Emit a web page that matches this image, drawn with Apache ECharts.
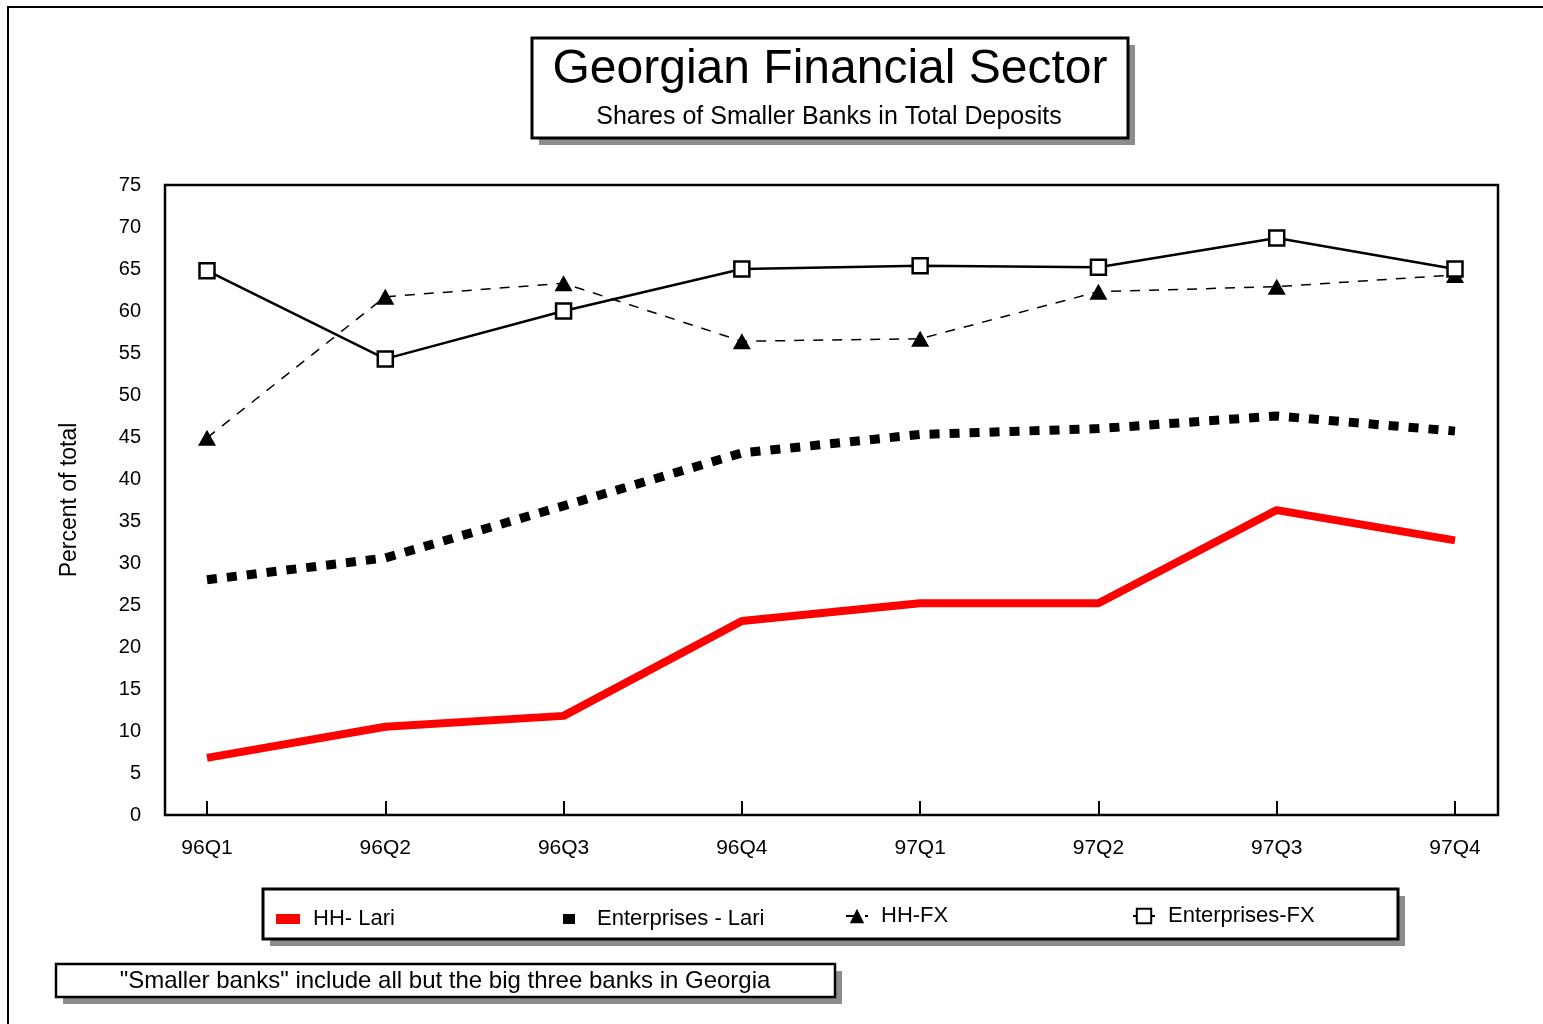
<!DOCTYPE html>
<html>
<head>
<meta charset="utf-8">
<title>Georgian Financial Sector</title>
<script src="https://cdn.jsdelivr.net/npm/echarts@6/dist/echarts.min.js"></script>
<style>
  html, body { margin: 0; padding: 0; background: #fff; }
  #chart { width: 1543px; height: 1024px; }
</style>
</head>
<body>
<div id="chart"></div>
<script>
var quarters = ['96Q1', '96Q2', '96Q3', '96Q4', '97Q1', '97Q2', '97Q3', '97Q4']
var hhLari = [6.8, 10.5, 11.8, 23.1, 25.2, 25.2, 36.3, 32.7]
var entLari = [28.0, 30.6, 36.8, 43.1, 45.3, 46.0, 47.5, 45.7]
var hhFx = [44.9, 61.7, 63.3, 56.4, 56.7, 62.3, 62.9, 64.3]
var entFx = [64.8, 54.3, 60.0, 65.0, 65.4, 65.2, 68.7, 65.0]

var FONT = '"Liberation Sans", Arial, sans-serif'

var chart = echarts.init(document.getElementById('chart'))

function legendAt(name, left, opts) {
  return Object.assign({
    data: [name],
    left: left,
    top: 905,
    padding: 0,
    itemHeight: 18,
    itemWidth: 22,
    selectedMode: false,
    textStyle: { fontFamily: FONT, fontSize: 22, color: '#000', padding: [0, 0, 0, 8] }
  }, opts || {})
}

chart.setOption({
  animation: false,
  backgroundColor: '#fff',
  grid: {
    left: 207,
    right: 88,
    top: 185,
    bottom: 209
  },
  legend: [
    legendAt('HH- Lari', 276, { icon: 'rect', itemWidth: 24, itemHeight: 10, top: 908 }),
    legendAt('Enterprises - Lari', 563, { icon: 'rect', itemWidth: 12, itemHeight: 10, top: 908,
      textStyle: { fontFamily: FONT, fontSize: 22, color: '#000', padding: [0, 0, 0, 17] } }),
    legendAt('HH-FX', 845),
    legendAt('Enterprises-FX', 1132)
  ],
  xAxis: {
    type: 'category',
    data: quarters,
    boundaryGap: false,
    axisLine: { show: false },
    axisTick: { inside: true, length: 14, lineStyle: { color: '#000', width: 2 } },
    axisLabel: { margin: 23, fontFamily: FONT, fontSize: 21, color: '#000' },
    splitLine: { show: false }
  },
  yAxis: {
    type: 'value',
    min: 0,
    max: 75,
    interval: 5,
    offset: 42,
    name: 'Percent of total',
    nameLocation: 'middle',
    nameRotate: 90,
    nameGap: 84,
    nameTextStyle: { fontFamily: FONT, fontSize: 23, color: '#000' },
    axisLine: { show: false },
    axisTick: { inside: true, length: 13, lineStyle: { color: '#000', width: 2 } },
    axisLabel: { margin: 24, fontFamily: FONT, fontSize: 20, color: '#000' },
    splitLine: { show: false }
  },
  series: [
    {
      name: 'HH- Lari',
      type: 'line',
      data: hhLari,
      symbol: 'none',
      itemStyle: { color: '#ff0000' },
      lineStyle: { color: '#ff0000', width: 8 }
    },
    {
      name: 'Enterprises - Lari',
      type: 'line',
      data: entLari,
      symbol: 'none',
      itemStyle: { color: '#000' },
      lineStyle: { color: '#000', width: 9, type: [10, 10], cap: 'butt' }
    },
    {
      name: 'HH-FX',
      type: 'line',
      data: hhFx,
      symbol: 'triangle',
      symbolSize: [18, 16],
      itemStyle: { color: '#000' },
      lineStyle: { color: '#000', width: 1.5, type: [10, 9] }
    },
    {
      name: 'Enterprises-FX',
      type: 'line',
      data: entFx,
      symbol: 'rect',
      symbolSize: 15,
      showAllSymbol: true,
      itemStyle: { color: '#fff', borderColor: '#000', borderWidth: 2.5 },
      lineStyle: { color: '#000', width: 2.5 }
    }
  ],
  graphic: [
    // page frame
    { type: 'rect', shape: { x: 8, y: 7, width: 1600, height: 1100 }, style: { fill: null, stroke: '#000', lineWidth: 2 } },
    // plot frame
    { type: 'rect', z: 10, shape: { x: 165, y: 185, width: 1333, height: 630 }, style: { fill: null, stroke: '#000', lineWidth: 2.5 } },
    // title box
    { type: 'rect', shape: { x: 539, y: 45, width: 596, height: 100 }, style: { fill: '#8c8c8c' } },
    { type: 'rect', shape: { x: 532, y: 38, width: 596, height: 100 }, style: { fill: '#fff', stroke: '#000', lineWidth: 3 } },
    { type: 'text', x: 830, y: 70, style: { text: 'Georgian Financial Sector', font: '48px ' + FONT, fill: '#000', align: 'center', verticalAlign: 'middle' } },
    { type: 'text', x: 829, y: 117, style: { text: 'Shares of Smaller Banks in Total Deposits', font: '25px ' + FONT, fill: '#000', align: 'center', verticalAlign: 'middle' } },
    // legend box
    { type: 'rect', shape: { x: 270, y: 896, width: 1135, height: 50 }, style: { fill: '#8c8c8c' } },
    { type: 'rect', shape: { x: 263, y: 889, width: 1135, height: 50 }, style: { fill: '#fff', stroke: '#000', lineWidth: 3 } },
    // footnote box
    { type: 'rect', shape: { x: 63, y: 971, width: 779, height: 33 }, style: { fill: '#8c8c8c' } },
    { type: 'rect', shape: { x: 56, y: 964, width: 779, height: 33 }, style: { fill: '#fff', stroke: '#000', lineWidth: 2.5 } },
    { type: 'text', x: 445, y: 981, style: { text: '"Smaller banks" include all but the big three banks in Georgia', font: '24px ' + FONT, fill: '#000', align: 'center', verticalAlign: 'middle' } }
  ]
})
</script>
</body>
</html>
